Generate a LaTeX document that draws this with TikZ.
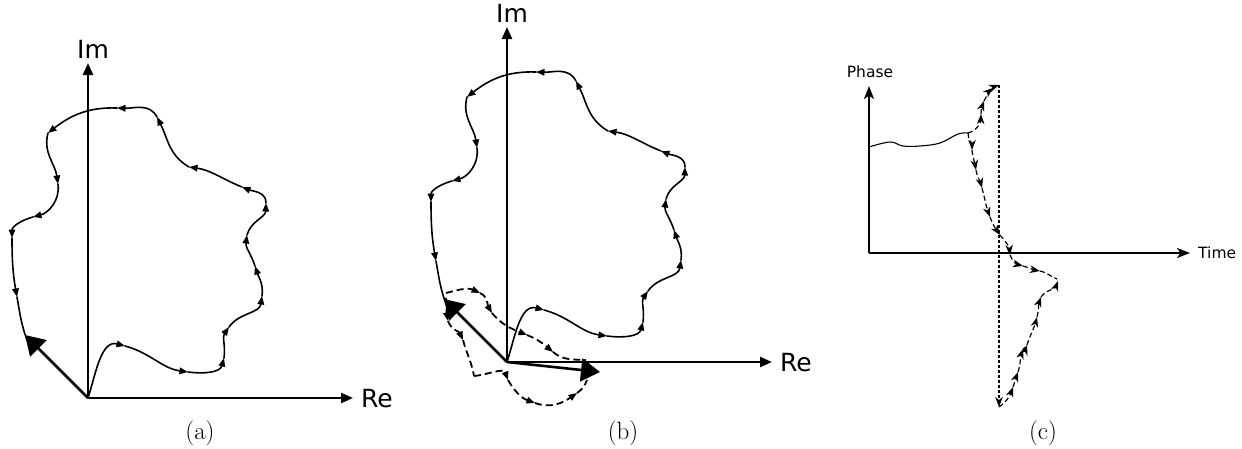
\documentclass[tikz,border=0pt]{standalone}
\usepackage{fontspec}
\newfontfamily\dejavu{DejaVu Sans}
\usetikzlibrary{arrows.meta}
\tikzset{
 ax/.style={line width=2.3pt,-{Triangle[length=12pt,width=10pt]}},
 seg/.style={line width=1.6pt,line cap=round,-{Triangle[length=8.5pt,width=6.5pt]}},
 segn/.style={line width=1.6pt,line cap=round},
 dseg/.style={line width=1.8pt,dash pattern=on 7pt off 4pt,-{Triangle[length=8.5pt,width=6.5pt]}},
 dsegn/.style={line width=1.8pt,dash pattern=on 7pt off 4pt},
 phasor/.style={line width=2.6pt,-{Triangle[length=19pt,width=23pt]}},
 axlabel/.style={font=\dejavu\fontsize{25}{30}\selectfont,inner sep=0pt},
 captext/.style={font=\fontsize{25}{30}\selectfont,inner sep=0pt,anchor=base},
 cax/.style={line width=2.2pt,-{Stealth[length=13pt,width=10pt,inset=3.5pt]}},
 cseg/.style={line width=1.2pt,dash pattern=on 5pt off 3pt,-{Stealth[length=10pt,width=7.5pt,inset=3pt]}},
 csegn/.style={line width=1.2pt,dash pattern=on 5pt off 3pt},
 clabel/.style={font=\dejavu\fontsize{15.5}{18}\selectfont,inner sep=0pt},
}
\newcommand\phasorloop{%
 \coordinate (O) at (88,-398);
 \coordinate (imtop) at (88,-63);
 \coordinate (reend) at (353,-398);
 \draw[ax] (O) -- (imtop);
 \draw[ax] (O) -- (reend);
 \node[axlabel,anchor=base] (imlab) at (93,-58) {Im};
 \node[axlabel,anchor=base west] (relab) at (361,-407) {Re};
 \coordinate (p1) at (125,-346);
 \coordinate (p2) at (188,-372);
 \coordinate (p3) at (224,-358);
 \coordinate (p4) at (229,-327);
 \coordinate (p5) at (262,-296);
 \coordinate (p6) at (255,-266);
 \coordinate (p7) at (247,-235);
 \coordinate (p8) at (266,-203);
 \coordinate (p9) at (242,-187);
 \coordinate (p10) at (189,-167);
 \coordinate (p11) at (157,-117);
 \coordinate (p12) at (117,-108);
 \coordinate (p13) at (48,-133);
 \coordinate (p14) at (58,-184);
 \coordinate (p15) at (33,-217);
 \coordinate (p16) at (12,-238);
 \coordinate (p17) at (17,-297);
 \coordinate (p18) at (27,-340);
 \draw[seg] (O) to[out=72,in=165] (p1);
 \draw[seg] (p1) to[out=-15,in=172] (p2);
 \draw[seg] (p2) to[out=-8,in=255] (p3);
 \draw[seg] (p3) to[out=82,in=235] (p4);
 \draw[seg] (p4) to[out=55,in=262] (p5);
 \draw[seg] (p5) to[out=82,in=288] (p6);
 \draw[seg] (p6) to[out=108,in=262] (p7);
 \draw[seg] (p7) to[out=75,in=268] (p8);
 \draw[seg] (p8) to[out=88,in=338] (p9);
 \draw[seg] (p9) to[out=158,in=352] (p10);
 \draw[seg] (p10) to[out=150,in=297] (p11);
 \draw[seg] (p11) to[out=117,in=358] (p12);
 \draw[seg] (p12) to[out=178,in=38] (p13);
 \draw[seg] (p13) to[out=255,in=98] (p14);
 \draw[seg] (p14) to[out=278,in=15] (p15);
 \draw[seg] (p15) to[out=195,in=90] (p16);
 \draw[seg] (p16) to[out=270,in=100] (p17);
 \draw[segn] (p17) to[out=280,in=110] (p18);
 \coordinate (tip1) at (25,-335);
 \draw[phasor] (O) -- (tip1);
}
\begin{document}
\begin{tikzpicture}[x=1pt,y=1pt]
\useasboundingbox (0,0) rectangle (1242,-448);
% panel (a)
\begin{scope}
 \phasorloop
\end{scope}
% panel (b)
\begin{scope}[shift={(419,36)}]
 \phasorloop
 \coordinate (u0) at (27,-329);
 \coordinate (u1) at (61,-329);
 \coordinate (u2) at (73,-349);
 \coordinate (u3) at (108,-371);
 \coordinate (u4) at (134,-388);
 \coordinate (u5) at (167,-396);
 \draw[dseg] (u0) to[out=15,in=155] (u1);
 \draw[dseg] (u1) to[out=-25,in=120] (u2);
 \draw[dseg] (u2) to[out=-50,in=158] (u3);
 \draw[dseg] (u3) to[out=-22,in=140] (u4);
 \draw[dsegn] (u4) to[out=-40,in=177] (u5);
 \coordinate (r0) at (27,-334);
 \coordinate (r1) at (29,-357);
 \coordinate (r2) at (44,-376);
 \coordinate (r3) at (55,-412);
 \coordinate (r4) at (89,-416);
 \coordinate (r5) at (116,-439);
 \coordinate (r6) at (158,-429);
 \coordinate (r7) at (168,-416);
 \draw[dseg] (r0) to[out=275,in=100] (r1);
 \draw[dseg] (r1) to[out=290,in=115] (r2);
 \draw[dsegn] (r2) to[out=285,in=100] (r3);
 \draw[dseg] (r3) to[out=5,in=110] (r4);
 \draw[dseg] (r4) to[out=300,in=160] (r5);
 \draw[dseg] (r5) to[out=-20,in=215] (r6);
 \draw[dsegn] (r6) to[out=35,in=250] (r7);
 \coordinate (tip2) at (181,-408);
 \draw[phasor] (O) -- (tip2);
\end{scope}
% panel (c)
\coordinate (Oc) at (869,-253);
\coordinate (ptop) at (869,-86);
\coordinate (tend) at (1190,-253);
\draw[cax] (Oc) -- (ptop);
\draw[cax] (Oc) -- (tend);
\node[clabel,anchor=base] (phlab) at (870,-77) {Phase};
\node[clabel,anchor=base west] (tlab) at (1198,-258) {Time};
\coordinate (F) at (968,-133);
\draw[line width=1.1pt] plot[smooth,tension=0.6] coordinates {(869,-147) (890,-142) (903,-146) (920,-146) (940,-143) (958,-134) (968,-133)};
% upward branch
\coordinate (c1) at (981,-114);
\coordinate (c2) at (984,-101);
\coordinate (c3) at (993,-88);
\coordinate (c4) at (999,-85);
\draw[cseg] (F) to[out=15,in=268] (c1);
\draw[cseg] (c1) to[out=88,in=250] (c2);
\draw[cseg] (c2) to[out=60,in=220] (c3);
\draw[cseg] (c3) to[out=40,in=200] (c4);
% downward branch
\coordinate (d1) at (972,-150);
\coordinate (d2) at (976,-170);
\coordinate (d3) at (982,-188);
\coordinate (d4) at (990,-217);
\coordinate (d5) at (1000,-235);
\coordinate (d6) at (1010,-255);
\coordinate (d7) at (1023,-266);
\coordinate (d8) at (1040,-271);
\coordinate (d9) at (1057,-279);
\draw[cseg] (F) to[out=270,in=90] (d1);
\draw[cseg] (d1) to[out=275,in=100] (d2);
\draw[cseg] (d2) to[out=280,in=105] (d3);
\draw[cseg] (d3) to[out=285,in=110] (d4);
\draw[cseg] (d4) to[out=290,in=125] (d5);
\draw[cseg] (d5) to[out=-50,in=95] (d6);
\draw[cseg] (d6) to[out=290,in=165] (d7);
\draw[cseg] (d7) to[out=-15,in=170] (d8);
\draw[csegn] (d8) to[out=-10,in=160] (d9);
% wrap line
\coordinate (wb) at (999,-407);
\draw[line width=1.1pt,dash pattern=on 3pt off 2pt,-{Stealth[length=10pt,width=7.5pt,inset=3pt]}] (c4) -- (wb);
% bottom branch
\coordinate (b1) at (1013,-387);
\coordinate (b2) at (1018,-372);
\coordinate (b3) at (1023,-349);
\coordinate (b4) at (1027,-345);
\coordinate (b5) at (1037,-317);
\coordinate (b6) at (1041,-297);
\coordinate (b7) at (1058,-281);
\draw[cseg] (wb) to[out=35,in=250] (b1);
\draw[cseg] (b1) to[out=70,in=250] (b2);
\draw[cseg] (b2) to[out=72,in=252] (b3);
\draw[cseg] (b3) to[out=72,in=252] (b4);
\draw[cseg] (b4) to[out=72,in=255] (b5);
\draw[cseg] (b5) to[out=75,in=250] (b6);
\draw[cseg] (b6) to[out=55,in=250] (b7);
% captions
\node[captext] (capa) at (200,-439) {(a)};
\node[captext] (capb) at (623,-439) {(b)};
\node[captext] (capc) at (1043,-439) {(c)};
\end{tikzpicture}
\end{document}
